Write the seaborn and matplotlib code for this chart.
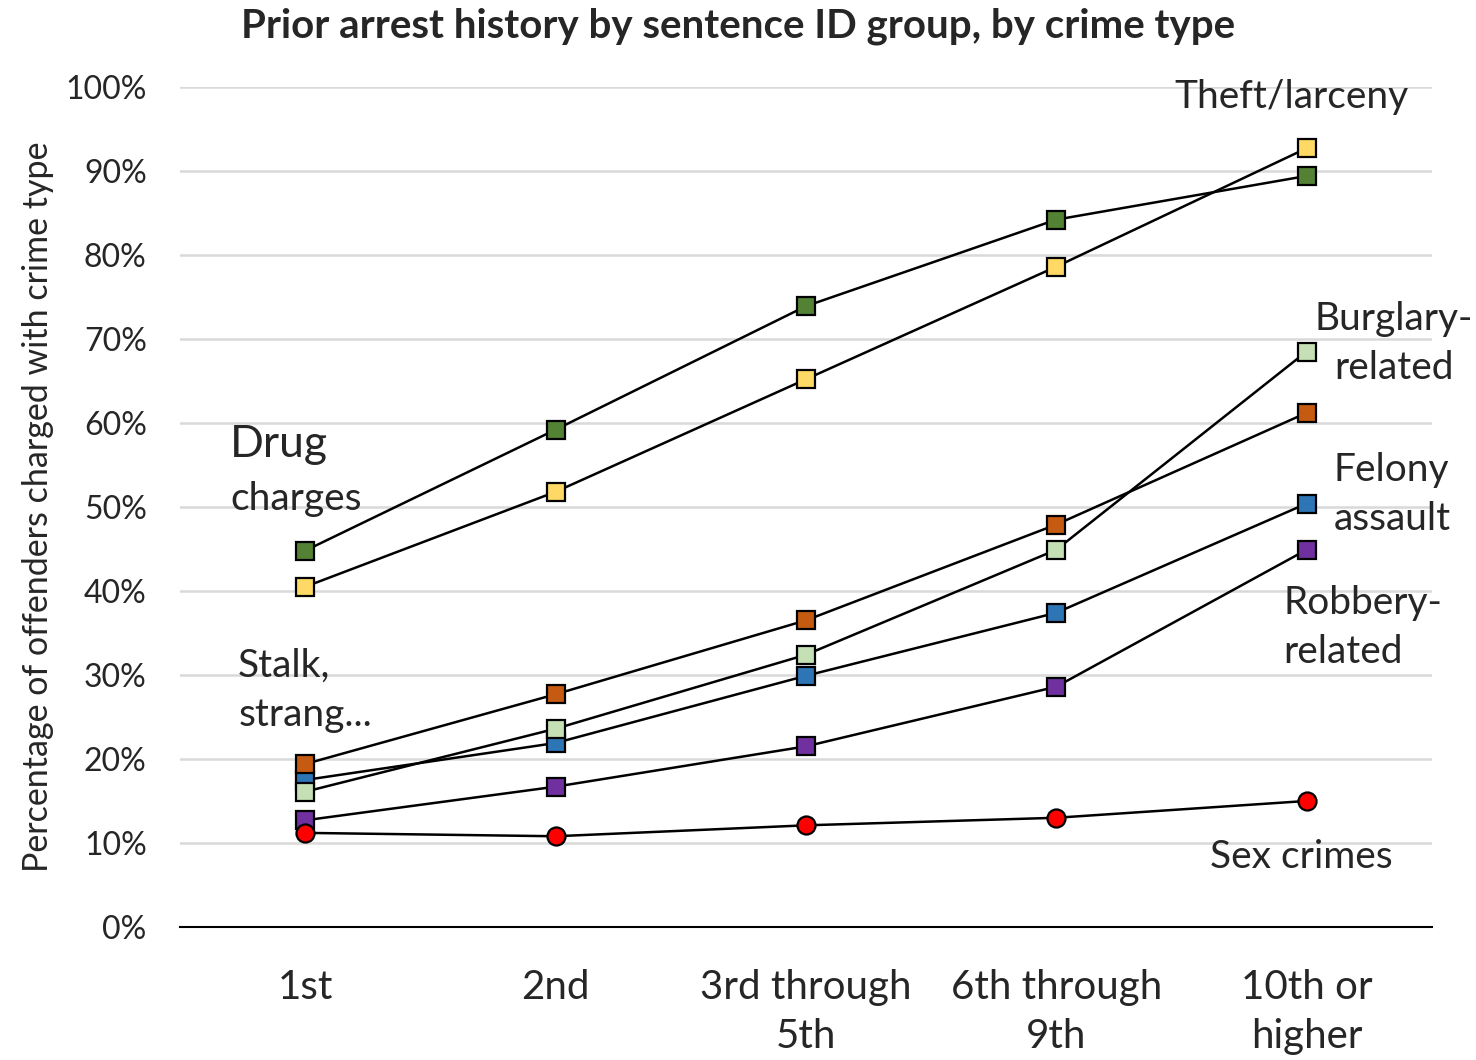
import pandas as pd
import matplotlib.pyplot as plt
import seaborn as sns

groups = ['1st', '2nd', '3rd through\n5th', '6th through\n9th', '10th or\nhigher']
drug = [0.448, 0.592, 0.739, 0.842, 0.894]
theft = [0.405, 0.518, 0.652, 0.786, 0.927]
stalk = [0.194, 0.277, 0.365, 0.479, 0.612]
burglary = [0.161, 0.236, 0.324, 0.449, 0.685]
felony = [0.175, 0.219, 0.299, 0.374, 0.504]
robbery = [0.127, 0.167, 0.215, 0.286, 0.449]
sex = [0.112, 0.108, 0.121, 0.130, 0.150]

series = [
    ('Felony assault', felony, '#2E75B6', 's'),
    ('Burglary-related', burglary, '#C5E0B4', 's'),
    ('Stalk, strang...', stalk, '#C55A11', 's'),
    ('Robbery-related', robbery, '#7030A0', 's'),
    ('Theft/larceny', theft, '#FFD966', 's'),
    ('Drug charges', drug, '#548235', 's'),
    ('Sex crimes', sex, '#FF0000', 'o'),
]

sns.set_style('white')
plt.rcParams['font.family'] = ['Lato', 'DejaVu Sans']

fig = plt.figure(figsize=(14.76, 10.6), dpi=100)
ax = fig.add_axes([0.122, 0.1255, 0.848, 0.7925])

for name, vals, col, mk in series:
    df = pd.DataFrame({'x': range(len(groups)), 'y': vals})
    sns.lineplot(data=df, x='x', y='y', ax=ax, color='black', lw=1.8,
                 marker=mk, ms=13, markerfacecolor=col, markeredgecolor='black',
                 markeredgewidth=1.6, zorder=3)

ax.set_xlim(-0.5, 4.5)
ax.set_ylim(0, 1.0)
ax.set_yticks([i / 10 for i in range(11)])
ax.set_yticklabels([f'{i * 10}%' for i in range(11)], fontsize=23)
ax.set_xticks(range(len(groups)))
ax.set_xticklabels(groups, fontsize=29, linespacing=1.4)
ax.tick_params(axis='x', length=0, pad=30)
ax.tick_params(axis='y', length=0, pad=24)
ax.grid(axis='y', color='#d9d9d9', lw=1.8)
ax.set_axisbelow(True)
for s in ['left', 'right', 'top']:
    ax.spines[s].set_visible(False)
ax.spines['bottom'].set_color('black')
ax.spines['bottom'].set_linewidth(1.5)
ax.set_xlabel('')
ax.set_ylabel('Percentage of offenders charged with crime type', fontsize=24.5, labelpad=8)

fs = 28
ls = 1.45
ax.text(3.94, 0.988, 'Theft/larceny', fontsize=fs, ha='center', va='center')
ax.text(4.35, 0.695, 'Burglary-\nrelated', fontsize=fs, ha='center', va='center', linespacing=ls)
ax.text(4.108, 0.515, 'Felony\nassault', fontsize=fs, ha='left', va='center', linespacing=ls)
ax.text(3.908, 0.356, 'Robbery-\nrelated', fontsize=fs, ha='left', va='center', linespacing=ls)
ax.text(3.98, 0.083, 'Sex crimes', fontsize=fs, ha='center', va='center')
ax.text(-0.3, 0.574, 'Drug', fontsize=32, ha='left', va='center')
ax.text(-0.3, 0.51, 'charges', fontsize=fs, ha='left', va='center')
ax.text(-0.268, 0.282, 'Stalk,\nstrang...', fontsize=fs, ha='left', va='center', linespacing=ls)

fig.text(0.5, 0.975, 'Prior arrest history by sentence ID group, by crime type',
         fontsize=29, fontweight='bold', ha='center', va='center')

plt.savefig('out.png', dpi=100)
